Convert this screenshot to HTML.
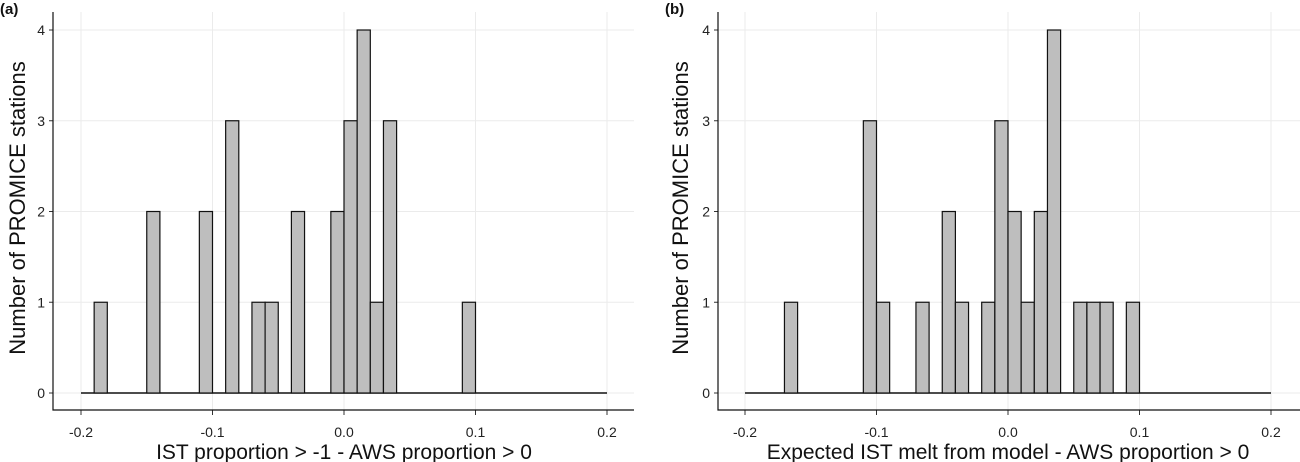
<!DOCTYPE html>
<html><head><meta charset="utf-8"><style>
body{margin:0;background:#fff;}
svg{display:block;font-family:"Liberation Sans",sans-serif;}
</style></head><body>
<svg id="c" width="1300" height="462"></svg>
<script>
const binStart = -0.2;
const binWidth = 0.01;
const countsA = [0,1,0,0,0,2,0,0,0,2,0,3,0,1,1,0,2,0,0,2,3,4,1,3,0,0,0,0,0,1,0,0,0,0,0,0,0,0,0,0];
const countsB = [0,0,0,1,0,0,0,0,0,3,1,0,0,1,0,2,1,0,1,3,2,1,2,4,0,1,1,1,0,1,0,0,0,0,0,0,0,0,0,0];
const xTicks = [-0.2,-0.1,0.0,0.1,0.2];
const xTickLabels = ["-0.2","-0.1","0.0","0.1","0.2"];
const yTicks = [0,1,2,3,4];
const NS="http://www.w3.org/2000/svg";
const svg=document.getElementById('c');
function mk(t,a,p){const e=document.createElementNS(NS,t);for(const k in a)e.setAttribute(k,a[k]);(p||svg).appendChild(e);return e;}
function panel(cfg){
  const g=mk('g',{});
  
  
  const x=v=>cfg.x0+(v+0.2)/0.4*(cfg.x1-cfg.x0);
  const y=v=>393-v*(393-30)/4;
  xTicks.forEach((t,i)=>{
    const l=mk('line',{x1:x(t),x2:x(t),y1:12,y2:410,stroke:'#ebebeb','stroke-width':1},g);
    
    
    const tk=mk('line',{x1:x(t),x2:x(t),y1:410,y2:415,stroke:'#333'},g);
    
    
    const tx=mk('text',{x:x(t),y:437,'text-anchor':'middle','font-size':14,fill:'#222'},g);
    tx.textContent=xTickLabels[i];
    
    
  });
  yTicks.forEach(t=>{
    const l=mk('line',{x1:cfg.ax,x2:cfg.axEnd,y1:y(t),y2:y(t),stroke:'#ebebeb','stroke-width':1},g);
    
    
    const tk=mk('line',{x1:cfg.ax-4,x2:cfg.ax,y1:y(t),y2:y(t),stroke:'#333'},g);
    
    
    const tx=mk('text',{x:cfg.ax-8,y:y(t)+5,'text-anchor':'end','font-size':14,fill:'#222'},g);
    tx.textContent=String(t);
    
    
  });
  const base=mk('line',{x1:x(-0.2),x2:x(0.2),y1:y(0),y2:y(0),stroke:'#111','stroke-width':1.4},g);
  
  
  cfg.counts.forEach((c,i)=>{
    if(c<=0) return;
    const a=binStart+i*binWidth,b=a+binWidth;
    const r=mk('rect',{x:x(a),y:y(c),width:x(b)-x(a),height:y(0)-y(c),fill:'#bebebe',stroke:'#111','stroke-width':1.2},g);
    
    
  });
  const ax=mk('path',{d:`M${cfg.ax},12 V410 H${cfg.axEnd}`,fill:'none',stroke:'#111','stroke-width':1.2},g);
  
  
  const xl=mk('text',{x:cfg.xlc,y:459,'text-anchor':'middle','font-size':21,fill:'#111'},g);
  xl.textContent=cfg.xlabel;
  
  
  const yl=mk('text',{x:0,y:0,'text-anchor':'middle','font-size':22,fill:'#111',transform:`translate(${cfg.ylx},208) rotate(-90)`},g);
  yl.textContent='Number of PROMICE stations';
  
  
  const pl=mk('text',{x:cfg.plx,y:14,'font-size':15,'font-weight':'bold',fill:'#111'},g);
  pl.textContent=cfg.tag;
  
  
}
panel({name:'panel-a',counts:countsA,x0:81,x1:607,ax:53,axEnd:634,xlc:344,xlabel:'IST proportion > -1 - AWS proportion > 0',ylx:25,plx:0,tag:'(a)'});
panel({name:'panel-b',counts:countsB,x0:745,x1:1271,ax:718,axEnd:1300,xlc:1008,xlabel:'Expected IST melt from model - AWS proportion > 0',ylx:688,plx:665,tag:'(b)'});
</script>
</body></html>
